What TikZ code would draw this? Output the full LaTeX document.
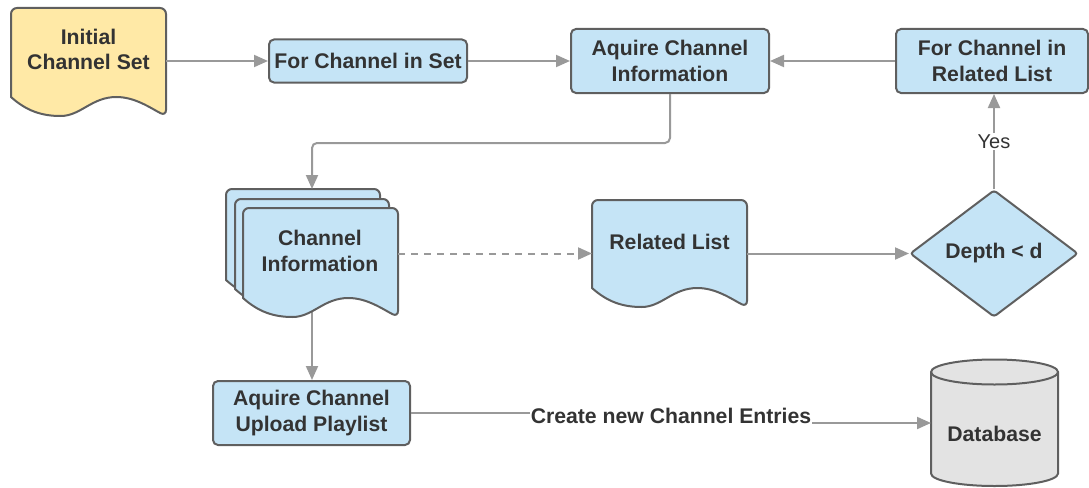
\documentclass[tikz,border=0pt]{standalone}
\usepackage{fontspec}
\setmainfont{Liberation Sans}
\usetikzlibrary{arrows.meta,shapes.geometric}
\definecolor{boxblue}{RGB}{197,228,246}
\definecolor{docyellow}{RGB}{255,233,166}
\definecolor{dbgray}{RGB}{227,227,227}
\definecolor{edgegray}{RGB}{95,95,95}
\definecolor{wire}{RGB}{153,153,153}
\definecolor{ink}{RGB}{51,51,51}
\newcommand\docshape[5]{%
  \pgfmathsetmacro\dw{#4-#2}%
  \path[#1] (#2,#5) [rounded corners=6pt]-- (#2,#3) -- (#4,#3) -- (#4,#5+19) [sharp corners]
   .. controls ({#2+0.9*\dw},#5+11) and ({#2+0.8*\dw},#5) .. ({#2+0.68*\dw},#5)
   .. controls ({#2+0.52*\dw},#5) and ({#2+0.45*\dw},#5+19) .. ({#2+0.32*\dw},#5+19)
   .. controls ({#2+0.2*\dw},#5+19) and ({#2+0.1*\dw},#5+14) .. (#2,#5) -- cycle;}
\tikzset{
  conn/.style={draw=wire, line width=2pt, -{Triangle[length=14pt,width=12pt]}},
  lbl/.style={text=ink, font=\bfseries\fontsize{21.2}{25.5}\selectfont, align=center, inner sep=0pt},
  box/.style={lbl, draw=edgegray, fill=boxblue, line width=2pt, rounded corners=5pt},
  frame/.style={inner sep=0pt, outer sep=0pt},
  docline/.style={draw=edgegray, line width=2pt},
}
\begin{document}
\begin{tikzpicture}[x=1pt,y=-1pt]
\useasboundingbox (0,0) rectangle (1089,487);
% frames for shapes drawn by hand
\node[frame, minimum width=155pt, minimum height=107pt] (init) at (88.5,61) {};
\node[frame, minimum width=172pt, minimum height=129pt] (ci) at (312,253.5) {};
\node[frame, minimum width=155pt, minimum height=107pt] (rl) at (669.5,253.5) {};
\node[frame, minimum width=127pt, minimum height=126pt] (db) at (994.5,423) {};
% boxes
\node[box, minimum width=198pt, minimum height=43pt] (fcs) at (368,61) {For Channel in Set};
\node[box, minimum width=198pt, minimum height=64pt] (aqi) at (670,61) {Aquire Channel\\Information};
\node[box, minimum width=192pt, minimum height=64pt] (fcrl) at (992,61) {For Channel in\\Related List};
\node[box, minimum width=197pt, minimum height=64pt] (aup) at (311.5,413) {Aquire Channel\\Upload Playlist};
\node[lbl, diamond, draw=edgegray, fill=boxblue, line width=2pt, rounded corners=3pt,
      minimum width=168pt, minimum height=127pt] (dep) at (994,253.5) {Depth < d};
% connector hidden under stack start
\draw[conn] (ci.center) -- (ci.center |- aup.north);
% document shapes
\docshape{docline, fill=docyellow}{11}{8}{166}{97}
\docshape{docline, fill=boxblue}{226}{189}{380}{280}
\docshape{docline, fill=boxblue}{235}{199}{389}{289}
\docshape{docline, fill=boxblue}{243}{208}{398}{298}
\docshape{docline, fill=boxblue}{592}{200}{747}{288}
% database
\path[docline, fill=dbgray] (931,372) -- (931,473.5) arc[start angle=180, end angle=360, x radius=63.5pt, y radius=12.5pt]
  -- (1058,372) arc[start angle=0, end angle=180, x radius=63.5pt, y radius=12.5pt] -- cycle;
\draw[docline] (931,372) arc[start angle=180, end angle=360, x radius=63.5pt, y radius=12.5pt];
% texts of hand-drawn shapes
\node[lbl] (initT) at (88.5,49.5) {Initial\\Channel Set};
\node[lbl] (ciT) at (320,251) {Channel\\Information};
\node[lbl] (rlT) at (669.5,242) {Related List};
\node[lbl] (dbT) at (994.5,434) {Database};
% connectors
\draw[conn] (init.east) -- (fcs.west);
\draw[conn] (fcs.east) -- (aqi.west);
\draw[conn] (fcrl.west) -- (aqi.east);
\draw[conn, rounded corners=5pt] (aqi.south) -- ++(0,49) -| (ci.north);
\draw[conn, dash pattern=on 7pt off 6pt] (ci.east) -- (rl.west);
\draw[conn] (rl.east) -- (dep.west);
\draw[conn] (dep.north) -- node[fill=white, text=ink, font=\fontsize{20}{24}\selectfont, inner sep=2pt] (yes) {Yes} (dep.north |- fcrl.south);
\coordinate (mid) at (671,416);
\draw[conn] (aup.east) -- (aup.east -| mid) -- (mid |- db.west) -- (db.west);
\node[lbl, fill=white, inner sep=1pt] (cne) at (mid) {Create new Channel Entries};
\end{tikzpicture}
\end{document}
